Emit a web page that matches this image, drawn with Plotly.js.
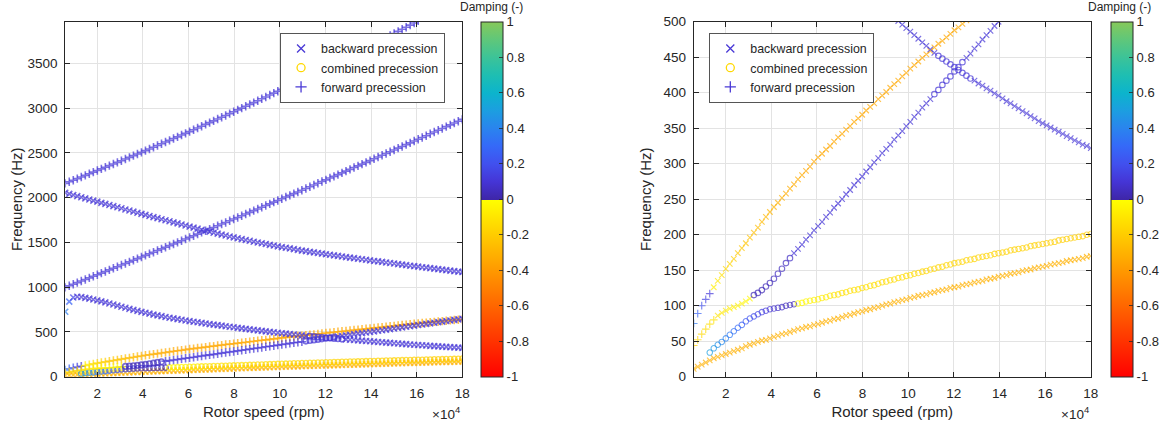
<!DOCTYPE html>
<html><head><meta charset="utf-8">
<script src="https://cdn.plot.ly/plotly-3.0.1.min.js"></script>
<style>html,body{margin:0;padding:0;background:#fff;}#chart{width:1163px;height:426px;}</style>
</head><body><div id="chart"></div>
<script>
// ---- data ----
const speedRpm = [6000,7758,9515,11273,13030,14788,16545,18303,20061,21818,23576,25333,27091,28848,30606,32364,34121,35879,37636,39394,41152,42909,44667,46424,48182,49939,51697,53455,55212,56970,58727,60485,62242,64000,65758,67515,69273,71030,72788,74545,76303,78061,79818,81576,83333,85091,86848,88606,90364,92121,93879,95636,97394,99152,100909,102667,104424,106182,107939,109697,111455,113212,114970,116727,118485,120242,122000,123758,125515,127273,129030,130788,132545,134303,136061,137818,139576,141333,143091,144848,146606,148364,150121,151879,153636,155394,157152,158909,160667,162424,164182,165939,167697,169455,171212,172970,174727,176485,178242,180000];
const tickSpeeds = [20000,40000,60000,80000,100000,120000,140000,160000,180000];
const tickLabels = ['2','4','6','8','10','12','14','16','18'];
const dampTicks = [-1,-0.8,-0.6,-0.4,-0.2,0,0.2,0.4,0.6,0.8,1];
const dampTickLabels = ['-1','-0.8','-0.6','-0.4','-0.2','0','0.2','0.4','0.6','0.8','1'];
const precessionNames = ['backward precession','combined precession','forward precession'];

// frequencies (Hz) per mode, starting at speed index given in modes[].s
const freqA = [11,14,17,20,23,26,28,30,32,34,36,38,40,43,45,47,49,51,52,54,56,58,60,61,63,65,67,68,70,71,73,74,76,78,79,81,82,84,86,87,89,91,92,94,95,97,98,100,102,103,105,106,108,109,111,112,114,115,116,118,119,121,122,123,125,126,127,129,130,131,133,134,135,137,138,139,141,142,143,145,146,147,149,150,151,153,154,155,156,158,159,160,161,163,164,165,166,167,169,170];
const freqR = [44,52,60,67,74,80,86,90,93,96,98,100,103,106,110,115,118,122,127,132,138,145,152,160,167,174,180,186,193,199,206,212,218,225,231,238,244,250,257,263,270,276,282,289,295,302,308,315,321,327,334,340,346,353,359,366,372,379,385,391,398,404,411,417,423,430,436,443,449,455,462,468,475,481,487,494,500,507,513,519,526,532,539,545,551,558,564,571,577,583,590,596,603,609,615,622,628,635,641,647];
const freqC = [75,89,100,109,117,126,135,143,152,159,166,174,181,188,196,203,210,218,225,232,239,245,252,258,265,271,278,284,290,296,303,309,314,320,325,331,337,342,348,353,359,364,369,375,380,385,391,396,401,407,412,417,423,428,434,439,444,449,454,459,464,469,473,478,483,488,492,497,502,507,511,516,521,526,530,535,540,545,549,554,559,564,568,573,577,582,587,591,596,600,604,608,613,617,621,625,629,633,637,641];
const freqD = [34,40,45,49,54,59,64,69,73,78,82,85,88,91,93,95,96,97,98,100,101,102,103,104,106,107,108,109,111,112,114,115,116,118,119,121,122,123,125,126,128,129,131,133,134,136,137,139,140,142,143,145,146,148,149,151,152,154,155,157,158,160,161,162,164,165,166,168,169,170,171,173,174,175,176,178,179,180,181,182,184,185,186,187,188,189,190,192,193,194,195,196,197,198,200,201];
const freqE = [726,838,885,893,890,881,872,863,853,841,830,818,806,794,782,770,758,746,735,724,714,704,694,685,676,667,659,651,643,636,628,621,614,608,601,595,588,582,576,570,564,558,552,546,540,534,529,523,517,512,506,501,496,491,486,481,476,471,466,461,456,452,448,444,440,436,432,428,424,420,417,413,410,406,403,399,396,392,388,385,381,378,374,371,367,364,360,357,354,351,348,345,342,339,336,333,330,327,325,322];
const freqF = [998,1016,1033,1051,1069,1086,1104,1122,1139,1157,1175,1193,1211,1229,1247,1265,1283,1301,1319,1337,1355,1373,1391,1410,1428,1446,1464,1483,1501,1519,1538,1556,1575,1593,1612,1630,1649,1667,1686,1705,1723,1742,1761,1779,1798,1817,1836,1855,1874,1893,1912,1931,1950,1969,1988,2007,2026,2045,2064,2083,2103,2122,2141,2161,2180,2199,2219,2238,2257,2277,2296,2316,2336,2355,2375,2394,2414,2434,2454,2473,2493,2513,2533,2553,2572,2592,2612,2632,2652,2672,2692,2713,2733,2753,2773,2793,2813,2834,2854,2874];
const freqG = [2055,2042,2030,2017,2005,1992,1980,1967,1955,1942,1930,1918,1905,1893,1881,1868,1856,1844,1832,1819,1807,1795,1783,1771,1759,1747,1736,1724,1712,1700,1689,1677,1665,1654,1642,1630,1619,1608,1598,1587,1577,1566,1556,1546,1537,1527,1518,1508,1499,1491,1482,1473,1465,1456,1448,1440,1433,1425,1417,1409,1402,1395,1389,1382,1375,1368,1362,1355,1349,1343,1336,1330,1324,1318,1312,1306,1299,1293,1288,1282,1276,1270,1264,1258,1252,1246,1240,1235,1229,1223,1218,1213,1207,1202,1196,1191,1185,1180,1174,1169];
const freqH = [2160,2178,2195,2213,2231,2249,2267,2285,2303,2321,2339,2358,2376,2394,2413,2431,2450,2469,2488,2506,2525,2544,2563,2583,2602,2621,2640,2660,2679,2699,2718,2738,2758,2778,2798,2818,2838,2858,2878,2898,2918,2939,2959,2980,3000,3021,3042,3062,3083,3104,3125,3146,3168,3189,3210,3231,3253,3274,3296,3317,3339,3361,3383,3405,3427,3449,3471,3493,3515,3537,3560,3582,3605,3627,3650,3673,3696,3719,3741,3764,3788,3811,3834,3857,3881,3904,3927,3951,3975];

// damping (-) per point, as runs [value, count]
const dampA = [[-0.31,100]];
const dampR = [[-0.19,1],[-0.17,1],[-0.15,1],[-0.14,1],[-0.12,1],[-0.11,1],[-0.10,1],[-0.09,1],[-0.08,1],[-0.07,1],[-0.06,1],[-0.05,1],[-0.04,1],[-0.035,1],[-0.03,1],[0.03,2],[0.035,1],[0.04,2],[0.045,1],[0.05,2],[0.055,1],[0.06,1],[0.1,75]];
const dampC = [[0.36,1],[0.27,1],[0.2,1],[0.14,1],[0.11,1],[-0.06,1],[-0.09,1],[-0.12,1],[-0.15,1],[-0.17,1],[-0.19,1],[-0.21,1],[-0.22,1],[-0.23,1],[-0.24,1],[-0.25,1],[-0.26,1],[-0.27,1],[-0.28,1],[-0.29,1],[-0.3,1],[-0.31,2],[-0.32,2],[-0.33,3],[-0.34,72]];
const dampD = [[0.5,1],[0.48,1],[0.45,1],[0.42,1],[0.39,1],[0.36,1],[0.33,1],[0.3,1],[0.27,1],[0.24,1],[0.21,1],[0.18,1],[0.16,1],[0.14,1],[0.12,1],[0.1,1],[0.085,1],[0.07,1],[0.06,1],[0.05,1],[0.04,1],[0.035,1],[-0.01,1],[-0.02,1],[-0.03,1],[-0.04,1],[-0.05,1],[-0.06,1],[-0.07,1],[-0.08,1],[-0.09,1],[-0.1,1],[-0.12,10],[-0.14,10],[-0.16,10],[-0.17,10],[-0.18,10],[-0.19,14]];
const dampE = [[0.38,1],[0.27,1],[0.16,1],[0.1,97]];
const dampF = [[0.1,100]];
const dampG = [[0.1,100]];
const dampH = [[0.1,89]];

// precession type per point (b backward, c combined, f forward), runs [type, count]
const typeA = [['b',100]];
const typeRLeft = [['f',15],['c',10],['f',35],['c',8],['b',32]];
const typeRRight = [['f',6],['b',9],['c',10],['b',35],['c',8],['b',32]];
const typeCLeft = [['f',100]];
const typeCRight = [['f',5],['b',95]];
const typeD = [['c',96]];
const typeE = [['b',61],['c',9],['b',30]];
const typeF = [['f',100]];
const typeG = [['b',100]];
const typeH = [['f',89]];

// ---- styling ----
const FONT = 'Liberation Sans, Arial, Helvetica, sans-serif';
const INK = '#262626';
const dampScale = [[0,'#ff0000'],[0.4999,'#ffff00'],[0.5,'#3e26a8'],[0.55,'#4535d6'],[0.6,'#4150ee'],[0.65,'#3569f8'],[0.7,'#2a84ee'],[0.75,'#1c9ee0'],[0.8,'#0cb4cc'],[0.85,'#1ebeb2'],[0.9,'#3cc398'],[0.95,'#5fc77a'],[1,'#86c95a']];
const symbolOf = {b:'x-thin-open', c:'circle-open', f:'cross-thin-open'};

function expand(runs){ const out=[]; runs.forEach(r=>{ for(let i=0;i<r[1];i++) out.push(r[0]); }); return out; }

const modes = [
  {f:freqA, s:0, d:dampA, tl:typeA, tr:typeA},
  {f:freqD, s:4, d:dampD, tl:typeD, tr:typeD},
  {f:freqC, s:0, d:dampC, tl:typeCLeft, tr:typeCRight},
  {f:freqR, s:0, d:dampR, tl:typeRLeft, tr:typeRRight},
  {f:freqE, s:0, d:dampE, tl:typeE, tr:typeE},
  {f:freqF, s:0, d:dampF, tl:typeF, tr:typeF},
  {f:freqG, s:0, d:dampG, tl:typeG, tr:typeG},
  {f:freqH, s:0, d:dampH, tl:typeH, tr:typeH}
];

const traces = [];
function cbar(xpos){
  return {x:xpos, xanchor:'left', xpad:0, ypad:0, y:0.5324, yanchor:'middle', len:355, lenmode:'pixels',
    thickness:22, thicknessmode:'pixels', outlinewidth:1, outlinecolor:INK,
    ticks:'inside', ticklen:4, tickwidth:0.8, tickcolor:INK, tickvals:dampTicks, ticktext:dampTickLabels,
    tickfont:{family:FONT, size:13, color:INK}};
}
// [xaxis, yaxis, type key, colorbar x, x/+ size, line width, circle size, circle line width]
[['x','y','tl',0.4136, 6, 1.6, 5.5, 1.3],['x2','y2','tr',0.955, 5.5, 1.15, 5.5, 1.05]].forEach(([xa,ya,tk,cbx,sz,lw,csz,clw],pi)=>{
  modes.forEach((m,mi)=>{
    const types = expand(m[tk]);
    traces.push({
      type:'scatter', mode:'markers', xaxis:xa, yaxis:ya, showlegend:false, hoverinfo:'skip',
      x: speedRpm.slice(m.s, m.s+m.f.length), y: m.f,
      marker:{
        color: expand(m.d), cmin:-1, cmax:1, colorscale:dampScale,
        symbol: types.map(t=>symbolOf[t]),
        size: types.map(t=>t==='c'?csz:sz),
        line:{width: types.some(t=>t!=='c') ? lw : clw},
        showscale: mi===0, colorbar: mi===0 ? cbar(cbx) : undefined
      }
    });
  });
  // legend entries
  const legColors = ['#4a3ad6','#ffd800','#4a3ad6'];
  ['b','c','f'].forEach((t,i)=>{
    traces.push({type:'scatter', mode:'markers', xaxis:xa, yaxis:ya, x:[null], y:[null], name:precessionNames[i],
      legend: pi===0?'legend':'legend2', hoverinfo:'skip',
      marker:{symbol:symbolOf[t], color:legColors[i], size:8, line:{width:1.3}}});
  });
});

function xax(dom, anchor){
  return {domain:dom, anchor:anchor, range:[6000,180000], tickvals:tickSpeeds, ticktext:tickLabels,
    showgrid:true, gridcolor:'#e3e3e3', gridwidth:1, zeroline:false, showline:true, linecolor:INK, linewidth:1,
    mirror:'allticks', ticks:'inside', ticklen:5, tickwidth:1, tickcolor:INK,
    tickfont:{family:FONT,size:13.5,color:INK}, ticklabelstandoff:4,
    title:{text:'Rotor speed (rpm)', font:{family:FONT,size:15,color:INK}, standoff:6}};
}
function yax(dom, anchor, rng, dt, so){
  return {domain:dom, anchor:anchor, range:rng, dtick:dt, tick0:0,
    showgrid:true, gridcolor:'#e3e3e3', gridwidth:1, zeroline:false, showline:true, linecolor:INK, linewidth:1,
    mirror:'allticks', ticks:'inside', ticklen:5, tickwidth:1, tickcolor:INK,
    tickfont:{family:FONT,size:13.5,color:INK}, ticklabelstandoff:4,
    title:{text:'Frequency (Hz)', font:{family:FONT,size:15,color:INK}, standoff:so}};
}
const yDom = [0.1157, 0.949];
const legendStyle = (xp)=>({x:xp, y:0.9225, xanchor:'left', yanchor:'top', bgcolor:'#ffffff', bordercolor:'#555555', borderwidth:1,
  font:{family:FONT,size:12.4,color:INK}, tracegroupgap:0});

const layout = {
  width:1163, height:426, margin:{l:0,r:0,t:0,b:0}, paper_bgcolor:'#ffffff', plot_bgcolor:'#ffffff',
  font:{family:FONT, color:INK}, hovermode:false,
  xaxis: xax([0.05615,0.39785],'y'), yaxis: yax(yDom,'x',[0,3965],500,1),
  xaxis2: xax([0.597,0.9387],'y2'), yaxis2: yax(yDom,'x2',[0,500],50,8),
  legend: legendStyle(0.2408), legend2: legendStyle(0.6099),
  annotations:[
    {xref:'paper',yref:'paper',x:0.423,y:0.9835,text:'Damping (-)',showarrow:false,xanchor:'center',yanchor:'middle',borderpad:0,font:{family:FONT,size:12,color:INK}},
    {xref:'paper',yref:'paper',x:0.9633,y:0.9835,text:'Damping (-)',showarrow:false,xanchor:'center',yanchor:'middle',borderpad:0,font:{family:FONT,size:12,color:INK}},
    {xref:'paper',yref:'paper',x:0.398,y:0.03,text:'×10<sup>4</sup>',showarrow:false,xanchor:'right',yanchor:'middle',font:{family:FONT,size:13.5,color:INK}},
    {xref:'paper',yref:'paper',x:0.9387,y:0.03,text:'×10<sup>4</sup>',showarrow:false,xanchor:'right',yanchor:'middle',font:{family:FONT,size:13.5,color:INK}}
  ]
};
Plotly.newPlot('chart', traces, layout, {displayModeBar:false, staticPlot:true});
</script></body></html>
